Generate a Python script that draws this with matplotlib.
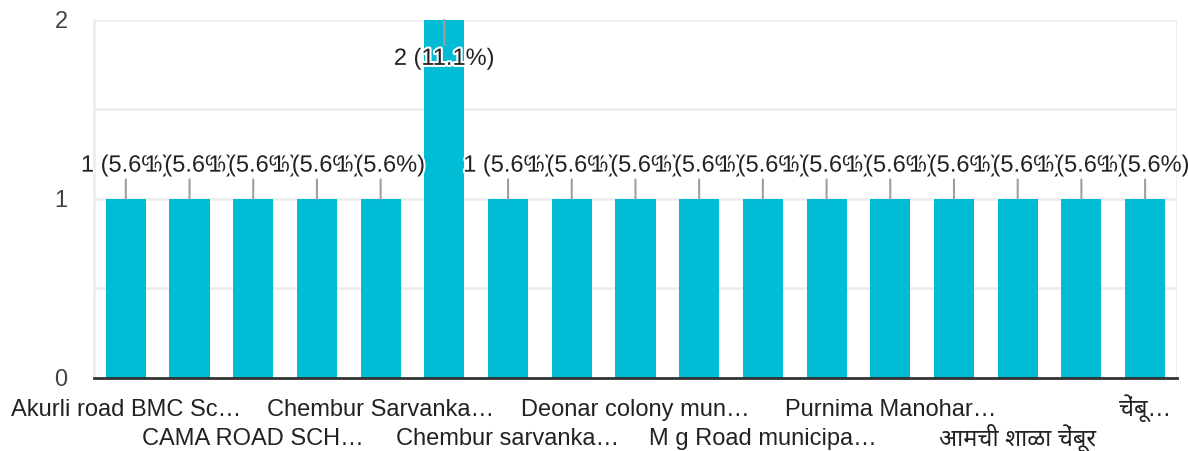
import matplotlib
matplotlib.use('Agg')
import matplotlib.pyplot as plt
import matplotlib.patheffects as pe
from matplotlib import font_manager
from matplotlib.ft2font import FT2Font

# Data
values = [1, 1, 1, 1, 1, 2, 1, 1, 1, 1, 1, 1, 1, 1, 1, 1, 1]
tick_labels = ["Akurli road BMC Sc…", "CAMA ROAD SCH…", "Chembur Sarvanka…",
               "Chembur sarvanka…", "Deonar colony mun…", "M g Road municipa…",
               "Purnima Manohar…", "आमची शाळा चेंबूर", "चेंबू…"]
y_ticks = [0, 1, 2]

BAR = '#00bcd4'
TXT = '#222222'
FS = 17

# find fonts that have Devanagari glyphs, prefer Noto
deva = []
for f in font_manager.fontManager.ttflist:
    try:
        if 0x0906 in FT2Font(f.fname).get_charmap():
            deva.append(f.name)
    except Exception:
        pass
deva.sort(key=lambda n: (0 if 'Noto' in n else 1 if 'Lohit' in n else 2, n))
families = ['Liberation Sans'] + deva[:1] + ['DejaVu Sans']
plt.rcParams['font.family'] = families

total = sum(values)
fig = plt.figure(figsize=(11.88, 4.51), dpi=100)
ax = fig.add_axes([0.0791, 0.1619, 0.9116, 0.7938])

x = list(range(len(values)))
ax.bar(x, values, width=0.63, color=BAR, zorder=2)

ax.set_xlim(-0.5, len(values) - 0.5)
ax.set_ylim(0, max(values))

# grid every half unit
for g in [0.5, 1, 1.5, 2]:
    ax.axhline(g, color='#ebebeb', lw=1.8, zorder=1)

for s in ['top', 'right']:
    ax.spines[s].set_visible(False)
ax.spines['left'].set_color('#ebebeb')
ax.spines['left'].set_linewidth(1.8)
ax.spines['bottom'].set_color('#333333')
ax.spines['bottom'].set_linewidth(2)
ax.spines['bottom'].set_zorder(3)
ax.axvline(len(values) - 0.5, color='#ebebeb', lw=1.8, zorder=1)

ax.set_yticks(y_ticks)
ax.set_yticklabels([str(t) for t in y_ticks], fontsize=FS, color='#444444')
ax.tick_params(axis='y', length=0, pad=19)

# x labels on every other bar, in two staggered rows (baseline aligned)
pos = x[::2]
ax.set_xticks(pos)
ax.set_xticklabels(tick_labels, fontsize=FS, color=TXT, va='baseline')
ax.tick_params(axis='x', length=0, pad=27.5)
for i, t in enumerate(ax.xaxis.get_major_ticks()):
    if i % 2 == 1:
        t.set_pad(48.5)

# value labels with leader lines
top = max(values)
for xi, v in zip(x, values):
    lab = f"{v} ({v / total * 100:.1f}%)"
    off = -28 if v == top else 24
    ax.annotate(lab, xy=(xi, v), xytext=(0, off), textcoords='offset points',
                ha='center', va='center', fontsize=FS, color=TXT,
                path_effects=[pe.withStroke(linewidth=3, foreground='white')],
                arrowprops=dict(arrowstyle='-', color='#9e9e9e', lw=1.5,
                                shrinkA=0, shrinkB=0),
                zorder=4, annotation_clip=False)

fig.savefig('out.png', dpi=100)
